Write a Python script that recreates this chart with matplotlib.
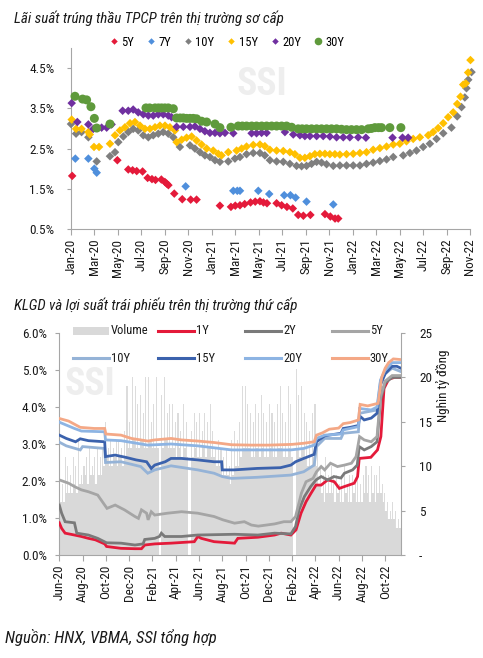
import matplotlib
matplotlib.use('Agg')
import matplotlib.pyplot as plt
from matplotlib import font_manager as fm
from matplotlib.lines import Line2D
from matplotlib.patches import Rectangle
import numpy as np

avail = {f.name for f in fm.fontManager.ttflist}
narrow = None
for cand in ['Liberation Sans Narrow', 'Arial Narrow', 'Roboto Condensed', 'Asap Condensed',
             'Open Sans Condensed', 'Noto Sans Condensed']:
    if cand in avail:
        narrow = cand
        break
if narrow is None:
    narrow = 'Liberation Sans'
plt.rcParams['font.family'] = [narrow, 'DejaVu Sans']

# ---------------- Top chart data (months since Jan-2020, yield %) ----------------
top_tick_labels = ['Jan-20', 'Mar-20', 'May-20', 'Jul-20', 'Sep-20', 'Nov-20', 'Jan-21', 'Mar-21',
                   'May-21', 'Jul-21', 'Sep-21', 'Nov-21', 'Jan-22', 'Mar-22', 'May-22', 'Jul-22',
                   'Sep-22', 'Nov-22']
top_yticks = [0.5, 1.5, 2.5, 3.5, 4.5]

m5 = [0.1, 3.95, 4.88, 5.25, 5.6, 6.1, 6.53, 6.9, 7.2, 7.7, 8.0, 8.15, 8.3, 8.8, 9.48, 10.2, 10.7,
      12.69, 13.63, 14.0, 14.4, 14.8, 15.3, 15.7, 16.1, 16.4, 16.7, 17.52, 17.95, 18.4, 18.9,
      19.36, 19.8, 20.4, 21.64, 22.1, 22.5, 22.77]
v5 = [1.82, 2.21, 1.98, 1.96, 1.94, 1.93, 1.77, 1.74, 1.72, 1.73, 1.67, 1.63, 1.59, 1.38, 1.24, 1.23, 1.23,
      1.08, 1.05, 1.08, 1.09, 1.12, 1.16, 1.18, 1.19, 1.16, 1.14, 1.14, 1.09, 1.05, 1.01,
      0.85, 0.83, 0.85, 0.87, 0.81, 0.76, 0.76]

m7 = [0.37, 1.48, 1.99, 2.19, 9.77, 13.83, 14.17, 14.4, 15.96, 16.89, 18.17, 18.7, 19.14, 20.07, 22.35]
v7 = [2.25, 2.25, 2.0, 1.9, 1.56, 1.45, 1.45, 1.45, 1.45, 1.37, 1.34, 1.34, 1.28, 1.18, 1.11]

m10 = [0, 0.43, 0.9, 1.48, 2.19, 3.32, 3.75, 4.03, 4.46, 4.88, 5.3, 5.73, 6.16, 6.59, 7.01, 7.44,
       7.86, 8.29, 8.72, 9.28, 10.14, 10.56, 10.99, 11.41, 11.84, 12.27, 12.69, 13.4, 13.97, 14.4,
       14.96, 15.53, 16.1, 16.52, 16.95, 17.52, 18.09, 18.65, 19.22, 19.65, 20.07, 20.5, 20.93,
       21.35, 21.78, 22.35, 22.91, 23.48, 24.05, 24.62, 25.18, 25.75, 26.32, 26.89, 27.46, 28.31,
       28.88, 29.44, 30.01, 30.58, 31.15, 31.72, 32.42, 32.91, 33.28, 33.56, 33.7, 33.85, 34.13]
v10 = [3.11, 2.87, 2.91, 2.78, 2.18, 2.31, 2.41, 2.66, 2.80, 2.91, 2.99, 2.95, 2.83, 2.78, 2.83, 2.87,
       2.91, 2.87, 2.78, 2.54, 2.58, 2.50, 2.41, 2.33, 2.29, 2.21, 2.17, 2.18, 2.25, 2.29,
       2.36, 2.39, 2.39, 2.33, 2.21, 2.18, 2.17, 2.12, 2.07, 2.06, 2.07, 2.12, 2.17,
       2.15, 2.11, 2.07, 2.08, 2.08, 2.08, 2.08, 2.12, 2.15, 2.19, 2.23, 2.29, 2.33,
       2.39, 2.45, 2.54, 2.62, 2.74, 2.88, 3.02, 3.30, 3.53, 3.77, 4.00, 4.21, 4.40]

m15 = [0.06, 0.43, 0.9, 1.48, 1.6, 1.96, 2.39, 3.32, 3.75, 4.17, 4.6, 5.03, 5.45, 5.88, 6.3, 6.73,
       7.16, 7.58, 8.01, 8.43, 8.86, 9.0, 9.43, 9.85, 10.28, 10.7, 11.13, 11.56, 12.12, 12.55, 12.83,
       13.4, 14.11, 14.54, 14.96, 15.53, 16.1, 16.52, 16.95, 17.52, 18.09, 18.65, 19.08, 19.51,
       19.93, 20.36, 20.78, 21.21, 21.64, 22.06, 22.49, 22.91, 23.48, 24.05, 24.62, 25.18, 25.75,
       26.32, 26.89, 27.46, 28.02, 28.59, 29.16, 29.73, 30.44, 30.86, 31.29, 31.72, 32.14, 32.57,
       32.91, 33.19, 33.42, 33.64, 33.84, 34.04]
v15 = [3.22, 2.99, 2.99, 2.91, 2.85, 2.54, 2.54, 2.62, 2.83, 2.95, 3.03, 3.13, 3.16, 3.07, 2.99, 2.99,
       3.03, 3.07, 3.07, 3.03, 2.95, 2.66, 2.72, 2.77, 2.80, 2.70, 2.60, 2.50, 2.45, 2.37, 2.33,
       2.41, 2.45, 2.50, 2.55, 2.59, 2.60, 2.56, 2.47, 2.45, 2.44, 2.41, 2.36, 2.27,
       2.27, 2.31, 2.36, 2.37, 2.37, 2.36, 2.36, 2.35, 2.36, 2.37, 2.39, 2.41, 2.47,
       2.51, 2.55, 2.60, 2.62, 2.68, 2.74, 2.78, 2.83, 2.91, 3.01, 3.13, 3.28, 3.40,
       3.61, 3.79, 4.09, 4.12, 4.39, 4.70]

m20 = [0.06, 0.54, 1.48, 1.9, 2.61, 3.04, 3.46, 4.4, 4.88, 5.3, 5.73, 6.16, 6.59, 7.01, 7.44, 7.86,
       8.29, 8.57, 9.0, 9.57, 10.14, 10.56, 10.99, 11.41, 11.84, 12.27, 12.69, 13.12, 13.83, 15.39,
       15.81, 16.24, 16.67, 18.23, 18.94, 19.51, 19.93, 20.36, 20.93, 21.49, 22.06, 22.63, 23.2,
       23.76, 24.47, 25.13, 27.4, 28.25, 28.73]
v20 = [3.63, 3.16, 3.10, 2.99, 3.02, 3.02, 3.10, 3.44, 3.44, 3.47, 3.40, 3.35, 3.32, 3.32, 3.35, 3.35,
       3.32, 3.28, 3.04, 3.04, 3.04, 3.05, 2.99, 2.93, 2.89, 2.89, 2.88, 2.89, 2.88, 2.88,
       2.88, 2.89, 2.89, 2.91, 2.85, 2.83, 2.81, 2.81, 2.81, 2.81, 2.80, 2.78, 2.78,
       2.78, 2.78, 2.77, 2.77, 2.77, 2.77]

m30 = [0.34, 0.99, 1.33, 1.7, 1.99, 2.19, 3.32, 6.39, 6.7, 7.16, 7.45, 7.72, 8.0, 8.29, 8.72, 9.0,
       9.3, 9.57, 9.85, 10.14, 10.42, 10.7, 11.13, 11.56, 12.27, 12.69, 13.63, 14.25, 14.6, 14.96,
       15.4, 15.81, 16.25, 16.67, 17.1, 17.52, 17.95, 18.37, 18.8, 19.36, 19.7, 20.07, 20.5, 20.93,
       21.35, 21.78, 22.2, 22.63, 23.05, 23.48, 23.9, 24.33, 24.76, 25.33, 25.6, 25.89, 26.2, 26.46,
       27.17, 28.11]
v30 = [3.80, 3.73, 3.71, 3.54, 3.25, 3.01, 3.11, 3.51, 3.51, 3.51, 3.51, 3.51, 3.51, 3.51, 3.49, 3.26,
       3.26, 3.26, 3.25, 3.25, 3.25, 3.24, 3.18, 3.16, 3.11, 3.02, 3.03, 3.06, 3.06, 3.06,
       3.06, 3.06, 3.06, 3.06, 3.06, 3.06, 3.06, 3.06, 3.03, 2.99, 2.99, 2.99, 2.99, 2.99,
       2.99, 2.99, 2.99, 2.99, 2.98, 2.97, 2.97, 2.97, 2.97, 2.99, 3.0, 3.02, 3.02, 3.02,
       3.02, 3.02]

# ---------------- Bottom chart data (months since Jun-2020) ----------------
bot_tick_labels = ['Jun-20', 'Aug-20', 'Oct-20', 'Dec-20', 'Feb-21', 'Apr-21', 'Jun-21', 'Aug-21',
                   'Oct-21', 'Dec-21', 'Feb-22', 'Apr-22', 'Jun-22', 'Aug-22', 'Oct-22']
bot_yticks = [0, 1, 2, 3, 4, 5, 6]
vol_ticks = [0, 5, 10, 15, 20, 25]
vol_tick_labels = ['-', '5', '10', '15', '20', '25']

# weekly trading volume (nghìn tỷ đồng), starting Jun-2020: typical level and weekly peak
vol_base = [6, 6, 7, 7, 7, 8, 7, 8, 8, 9, 8, 9, 9, 8, 9, 9, 10, 11, 10, 10, 11, 10, 11, 10, 11,
            12, 12, 13, 12, 12, 13, 12, 12, 13, 12, 12, 12, 0, 12, 13, 12, 12, 12, 11, 12, 11, 12, 11,
            0, 11, 12, 11, 11, 12, 11, 12, 11, 11, 10, 10, 9, 9, 9, 8, 9, 10, 10, 11, 12, 12, 12,
            11, 11, 12, 11, 12, 11, 11, 12, 11, 11, 12, 12, 11, 11, 12, 11, 0, 12, 11, 12, 11, 10, 10,
            11, 10, 8, 7, 6, 7, 7, 7, 6, 7, 6, 6, 7, 6, 6, 7, 6, 6, 6, 7, 7, 6, 7, 6, 7, 7, 6, 5,
            4, 4, 4, 3, 3, 3]
vol_peak = [7, 8, 11, 10, 9, 11, 10, 13, 9, 10, 11, 12, 10, 11, 12, 11, 12, 15, 12, 13, 12, 13, 13, 12, 14,
            19, 15, 20, 19, 17, 18, 16, 20, 20, 15, 17, 20, 0, 18, 20, 16, 17, 17, 15, 16, 14, 17, 15,
            0, 14, 16, 15, 16, 14, 16, 15, 17, 14, 12, 13, 12, 11, 12, 10, 13, 14, 13, 15, 19, 19, 17,
            16, 15, 17, 16, 18, 16, 15, 17, 16, 15, 17, 19, 16, 15, 19, 17, 0, 21, 18, 19, 16, 15, 14,
            16, 17, 13, 10, 9, 11, 9, 10, 9, 9, 8, 9, 10, 8, 9, 9, 8, 9, 8, 9, 10, 9, 10, 9, 9, 10, 8, 7,
            6, 5, 6, 5, 4, 3]
vol_step = 12 / 52

y1_m = [0, 0.2, 0.5, 1.3, 1.9, 2.5, 3.1, 3.9, 4.06, 5.3, 6.5, 7.06, 7.34, 8.2, 9.6, 11.6, 11.9, 12.2,
        13.3, 15.06, 15.34, 17.06, 18.5, 19.06, 19.9, 20.34, 20.77, 21.2, 21.63, 22.06, 22.5, 23.06,
        23.63, 24.06, 24.5, 25.34, 25.63, 25.77, 26.77, 27.34, 27.63, 27.9, 28.3, 28.8, 29.4]
y1_v = [0.87, 0.72, 0.59, 0.54, 0.50, 0.45, 0.41, 0.30, 0.23, 0.18, 0.17, 0.17, 0.27, 0.30, 0.32, 0.36,
        0.50, 0.45, 0.36, 0.32, 0.45, 0.48, 0.54, 0.59, 0.54, 0.68, 1.13, 1.44, 1.67, 1.89, 1.89, 2.03,
        1.98, 1.80, 1.85, 1.94, 2.12, 2.61, 2.64, 2.84, 3.20, 4.50, 4.75, 4.80, 4.80]

y2_m = [0, 0.2, 0.5, 1.3, 1.5, 2.5, 3.3, 4.06, 5.3, 6.5, 7.2, 7.34, 8.2, 8.6, 8.77, 9.06, 10.5, 11.9,
        15.06, 17.06, 18.5, 19.9, 20.3, 20.6, 21.06, 21.6, 22.06, 22.5, 23.06, 23.6, 24.2, 24.5, 25.2,
        25.6, 25.77, 26.2, 26.8, 27.3, 27.6, 28.0, 28.6, 29.4]
y2_v = [1.35, 1.13, 0.90, 0.87, 0.59, 0.54, 0.45, 0.33, 0.32, 0.27, 0.30, 0.42, 0.45, 0.50, 0.59, 0.50,
        0.50, 0.54, 0.56, 0.54, 0.59, 0.57, 0.77, 1.22, 1.58, 1.85, 2.03, 2.12, 2.03, 2.12, 2.08, 2.21,
        2.30, 2.43, 2.93, 2.84, 2.93, 3.06, 4.19, 4.65, 4.80, 4.80]

y5_m = [0, 0.8, 1.3, 1.9, 2.5, 3.3, 3.9, 4.1, 4.8, 5.6, 6.5, 6.8, 7.06, 7.5, 7.63, 7.9, 8.2, 9.3, 10.5,
        11.9, 13.3, 14.06, 15.06, 15.9, 16.5, 17.1, 18.5, 19.3, 19.9, 20.3, 20.8, 21.2, 21.8, 22.1,
        22.5, 22.8, 23.3, 23.9, 24.5, 25.1, 25.5, 25.8, 26.2, 26.8, 27.3, 27.6, 28.0, 28.6, 29.4]
y5_v = [2.03, 1.94, 1.85, 1.76, 1.71, 1.62, 1.35, 1.26, 1.35, 1.22, 1.04, 0.99, 1.22, 1.13, 0.95, 1.17,
        1.08, 1.13, 1.17, 1.13, 1.04, 0.95, 0.86, 0.90, 0.81, 0.78, 0.84, 0.90, 0.90, 1.04, 1.67, 1.98,
        2.07, 2.25, 2.39, 2.30, 2.48, 2.39, 2.43, 2.48, 2.66, 3.20, 3.11, 3.06, 3.20, 4.28, 4.70, 4.85, 4.85]

y10_m = [0, 0.6, 1.8, 2.0, 3.9, 3.97, 5.3, 7.0, 7.6, 8.2, 9.6, 11.9, 13.3, 14.0, 14.8, 17.0, 19.9, 21.0,
         21.9, 22.1, 22.8, 24.2, 24.4, 25.7, 25.8, 27.3, 27.6, 28.0, 28.6, 29.4]
y10_v = [3.05, 2.95, 2.84, 2.93, 2.88, 2.50, 2.52, 2.39, 2.21, 2.30, 2.41, 2.30, 2.21, 2.12, 2.07, 2.10,
         2.16, 2.25, 2.43, 2.93, 3.15, 3.15, 3.29, 3.33, 3.83, 3.92, 4.70, 4.90, 5.05, 4.95]

y15_m = [0, 0.6, 1.4, 1.8, 2.5, 3.9, 3.97, 4.8, 5.7, 6.6, 7.5, 7.9, 8.2, 9.1, 9.6, 10.5, 11.9, 13.3,
         13.95, 14.0, 15.0, 17.0, 19.0, 19.9, 20.3, 21.0, 21.9, 22.1, 22.8, 24.2, 24.4, 25.0, 25.7,
         25.8, 26.2, 26.8, 27.3, 27.6, 28.0, 28.6, 29.0, 29.4]
y15_v = [3.24, 3.15, 3.06, 3.14, 3.09, 3.06, 2.66, 2.70, 2.64, 2.57, 2.52, 2.34, 2.43, 2.52, 2.61, 2.61,
         2.57, 2.52, 2.52, 2.30, 2.30, 2.34, 2.36, 2.43, 2.52, 2.61, 2.72, 3.06, 3.22, 3.29, 3.42, 3.45,
         3.50, 3.76, 3.65, 3.70, 3.83, 4.60, 4.90, 5.10, 5.10, 5.04]

y20_m = [0, 1.3, 1.9, 3.9, 3.97, 5.3, 7.6, 9.6, 11.9, 14.8, 17.0, 19.9, 21.0, 21.9, 22.1, 22.8, 24.2,
         24.4, 25.7, 25.8, 26.8, 27.3, 27.6, 28.0, 28.6, 29.4]
y20_v = [3.59, 3.42, 3.35, 3.33, 3.11, 3.09, 2.97, 3.00, 2.95, 2.84, 2.84, 2.84, 2.88, 2.97, 3.15, 3.24,
         3.27, 3.38, 3.47, 3.96, 3.92, 4.00, 4.73, 5.00, 5.20, 5.20]

y30_m = [0, 0.8, 1.8, 3.0, 3.9, 4.0, 5.3, 6.2, 7.6, 8.2, 9.6, 10.5, 11.9, 13.3, 14.8, 16.5, 18.0, 20.0,
         21.0, 21.9, 22.1, 22.6, 23.2, 24.0, 24.4, 25.0, 25.7, 25.85, 26.5, 27.4, 27.7, 28.0, 28.3,
         28.7, 29.4]
y30_v = [3.69, 3.62, 3.45, 3.42, 3.42, 3.27, 3.24, 3.15, 3.08, 3.11, 3.15, 3.11, 3.08, 3.04, 2.98, 2.97,
         2.97, 2.99, 3.02, 3.06, 3.24, 3.30, 3.40, 3.43, 3.55, 3.58, 3.65, 4.07, 4.03, 4.10, 4.80, 5.05,
         5.20, 5.30, 5.28]

# ---------------- styles ----------------
W, H = 483, 658
spine_c = '#a6a6a6'
txt_c = '#1a1a1a'
wm_c = '#eeeeee'
is_narrow = narrow != 'Liberation Sans'
k = 1.0 if is_narrow else 0.86   # shrink to mimic a narrow face

fig = plt.figure(figsize=(W / 100, H / 100), dpi=100)

def fx(px):
    return px / W

def fy(py):
    return 1 - py / H

# ================= TOP CHART =================
ax1 = fig.add_axes([fx(71), fy(229), fx(399), 181 / H])
ax1.set_xlim(0, 34)
ax1.set_ylim(0.5, 5.0)
for s in ['top', 'right']:
    ax1.spines[s].set_visible(False)
for s in ['left', 'bottom']:
    ax1.spines[s].set_color(spine_c)
    ax1.spines[s].set_linewidth(0.8)
ax1.set_yticks(top_yticks)
ax1.set_yticklabels([f'{v:.1f}%' for v in top_yticks])
ax1.set_xticks(np.arange(len(top_tick_labels)) * 2)
ax1.set_xticklabels(top_tick_labels, rotation=90)
ax1.tick_params(axis='y', direction='out', length=3, color=spine_c, labelsize=9.5 * k, pad=9, labelcolor=txt_c)
ax1.tick_params(axis='x', direction='out', length=4, color=spine_c, labelsize=9.5 * k, pad=3, labelcolor=txt_c)
ax1.text(0.479, 0.80, 'SSI', transform=ax1.transAxes, ha='center', va='center', fontsize=27 * k,
         fontweight='bold', color=wm_c, zorder=0)

top_series = [
    ('5Y', m5, v5, '#e41a3a', 'D'),
    ('7Y', m7, v7, '#4f8fdc', 'D'),
    ('10Y', m10, v10, '#7f7f7f', 'D'),
    ('15Y', m15, v15, '#ffc000', 'D'),
    ('20Y', m20, v20, '#7030a0', 'D'),
    ('30Y', m30, v30, '#5f9a3c', 'o'),
]
for name, mm, vv, c, mk in top_series:
    ax1.scatter(mm, vv, marker=mk, s=(19 if mk == 'D' else 42), color=c, edgecolors='none',
                clip_on=False, zorder=3, label=name)

handles = [Line2D([], [], linestyle='none', marker=mk, color=c, markersize=(3.3 if mk == 'D' else 5.5),
                  markeredgewidth=0) for _, _, _, c, mk in top_series]
fig.legend(handles, [t[0] for t in top_series], loc='center', bbox_to_anchor=(fx(227), fy(42)),
           ncol=6, frameon=False, fontsize=9 * k, handlelength=0.6, handletextpad=0.3,
           columnspacing=1.05, borderaxespad=0, borderpad=0)

fig.text(fx(14), fy(18), 'Lãi suất trúng thầu TPCP trên thị trường sơ cấp', ha='left', va='center',
         fontsize=10.8 * k, style='italic', color=txt_c)

# ================= BOTTOM CHART =================
ax2 = fig.add_axes([fx(59.3), fy(555), fx(341.7), 222 / H])
axv = ax2.twinx()
ax2.set_zorder(axv.get_zorder() + 1)
ax2.patch.set_visible(False)

ax2.set_xlim(0, 29.36)
ax2.set_ylim(0, 6)
axv.set_ylim(0, 25)

xv = np.arange(len(vol_base)) * vol_step
axv.bar(xv, vol_peak, width=vol_step * 0.4, align='edge', color='#dcdcdc', edgecolor='none', zorder=1)
axv.bar(xv, vol_base, width=vol_step, align='edge', color='#d9d9d9', edgecolor='none', zorder=1)
axv.text(0.09, 0.77, 'SSI', transform=axv.transAxes, ha='center', va='center', fontsize=27 * k,
         fontweight='bold', color=wm_c, zorder=0)

bot_series = [
    ('1Y', y1_m, y1_v, '#e41a3a', 2.0),
    ('2Y', y2_m, y2_v, '#7a7a7a', 2.0),
    ('5Y', y5_m, y5_v, '#a5a5a5', 2.0),
    ('10Y', y10_m, y10_v, '#95b3d7', 2.0),
    ('15Y', y15_m, y15_v, '#3b62ad', 2.0),
    ('20Y', y20_m, y20_v, '#8db4e3', 2.0),
    ('30Y', y30_m, y30_v, '#f4a886', 2.0),
]
for name, mm, vv, c, lw in bot_series:
    ax2.plot(mm, vv, color=c, lw=lw, solid_joinstyle='miter', zorder=3)

for s in ['top', 'right']:
    ax2.spines[s].set_visible(False)
for s in ['left', 'bottom']:
    ax2.spines[s].set_color(spine_c)
    ax2.spines[s].set_linewidth(0.8)
for s in ['top', 'left', 'bottom']:
    axv.spines[s].set_visible(False)
axv.spines['right'].set_color(spine_c)
axv.spines['right'].set_linewidth(0.8)

ax2.set_yticks(bot_yticks)
ax2.set_yticklabels([f'{v:.1f}%' for v in bot_yticks])
ax2.set_xticks(np.arange(len(bot_tick_labels)) * 2)
ax2.set_xticklabels(bot_tick_labels, rotation=90)
ax2.tick_params(axis='y', direction='out', length=3, color=spine_c, labelsize=9.5 * k, pad=6, labelcolor=txt_c)
ax2.tick_params(axis='x', direction='out', length=4, color=spine_c, labelsize=9.5 * k, pad=3, labelcolor=txt_c)
axv.set_yticks(vol_ticks)
axv.set_yticklabels(vol_tick_labels)
axv.tick_params(axis='y', direction='out', length=3, color=spine_c, labelsize=9.5 * k, pad=10, labelcolor=txt_c)

fig.text(fx(443), fy(386), 'Nghìn tỷ đồng', rotation=90, ha='center', va='center', fontsize=9.5 * k,
         color=txt_c)

# manual legend (two rows of four)
leg_items = [
    ('Volume', '#d9d9d9', 'patch', 72.7, 331),
    ('1Y', '#e41a3a', 'line', 158.3, 331),
    ('2Y', '#7a7a7a', 'line', 245, 331),
    ('5Y', '#a5a5a5', 'line', 331.7, 331),
    ('10Y', '#95b3d7', 'line', 72.7, 358),
    ('15Y', '#3b62ad', 'line', 158.3, 358),
    ('20Y', '#8db4e3', 'line', 245, 358),
    ('30Y', '#f4a886', 'line', 331.7, 358),
]
for lab, c, kind, x0, y0 in leg_items:
    if kind == 'patch':
        fig.add_artist(Rectangle((fx(x0), fy(y0 + 4)), fx(36), 8 / H, transform=fig.transFigure,
                                 facecolor=c, edgecolor='none', zorder=5))
    else:
        fig.add_artist(Line2D([fx(x0), fx(x0 + 36)], [fy(y0), fy(y0)], transform=fig.transFigure,
                              color=c, lw=2.2, zorder=5))
    fig.text(fx(x0 + 38), fy(y0), lab, ha='left', va='center', fontsize=9 * k, color=txt_c, zorder=6)

fig.text(fx(14), fy(305), 'KLGD và lợi suất trái phiếu trên thị trường thứ cấp', ha='left',
         va='center', fontsize=10.8 * k, style='italic', color=txt_c)
fig.text(fx(5), fy(638), 'Nguồn: HNX, VBMA, SSI tổng hợp', ha='left', va='center', fontsize=12 * k,
         style='italic', color=txt_c)

fig.savefig('out.png', dpi=100)
